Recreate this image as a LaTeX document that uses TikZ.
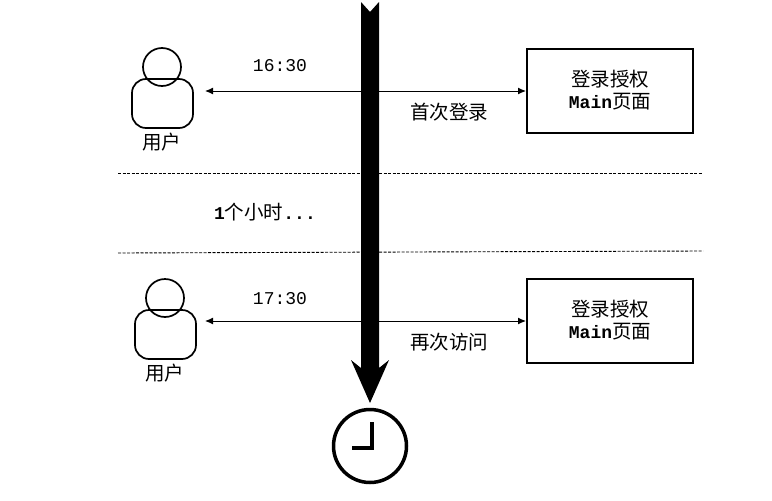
\documentclass[tikz,border=0pt]{standalone}
\usepackage{fontspec}
\usetikzlibrary{arrows.meta}
\setmonofont{Liberation Mono}
\newfontfamily\cjk{Noto Sans CJK SC}
\begin{document}
\begin{tikzpicture}[
  x=1pt, y=-1pt,
  every node/.style={font=\cjk\fontsize{19.5}{22}\selectfont, inner sep=0pt},
  person/.style={draw, line width=1.7pt, circle, minimum size=38pt, fill=none},
  torso/.style={draw, line width=1.7pt, rounded corners=14pt, minimum width=61pt, minimum height=49pt},
  pagebox/.style={draw, line width=2pt, minimum width=166pt, minimum height=84pt, align=center},
  link/.style={{Latex[length=8pt,width=7pt]}-{Latex[length=8pt,width=7pt]}, line width=1pt},
  divider/.style={dash pattern=on 3pt off 1.5pt, line width=0.9pt},
  latin/.style={font=\ttfamily\fontsize{18}{22}\selectfont}
]
\useasboundingbox (0,0) rectangle (772,501);

% Rows
\foreach \n/\ux/\uy/\ay/\ty/\time/\note in {1/162/67/91/66/16:30/首次登录, 2/165/298/321/299/17:30/再次访问} {
  \node[person] (head\n) at (\ux,\uy) {};
  \node[torso] (body\n) at (\ux+0.5,\uy+36.5) {};
  \node (user\n) at (\ux-0.5,\uy+75) {用户};
  \node[pagebox] (page\n) at (610,\ay-0.5) {登录授权\\{\ttfamily\bfseries\fontsize{18}{22}\selectfont Main}页面};
  \coordinate (end\n) at (205,\ay);
  \draw[link] (end\n) -- (end\n -| page\n.west);
  \node[latin] (clock\n) at (280,\ty) {\time};
  \node (note\n) at (449,\ay+21) {\note};
}

% Dividers
\coordinate (d1) at (118,173);
\coordinate (d2) at (703,173);
\coordinate (d3) at (118,253);
\coordinate (d4) at (703,251);
\draw[divider] (d1) -- (d2);
\draw[divider] (d3) -- (d4);
\node (gap) at (265,212) {{\ttfamily\bfseries\fontsize{18}{22}\selectfont 1}个小时{\ttfamily\bfseries\fontsize{18}{22}\selectfont ...}};

% Time axis
\fill (361,2) -- (370,12) -- (379,2) -- (379,368) -- (389,360) -- (370,403)
  -- (351,360) -- (361,368) -- cycle;

% Clock
\node[draw, circle, line width=3.5pt, minimum size=73pt] (dial) at (370,446) {};
\draw[line width=3.5pt] (372,422) -- (372,448) -- (352,448);
\end{tikzpicture}
\end{document}
